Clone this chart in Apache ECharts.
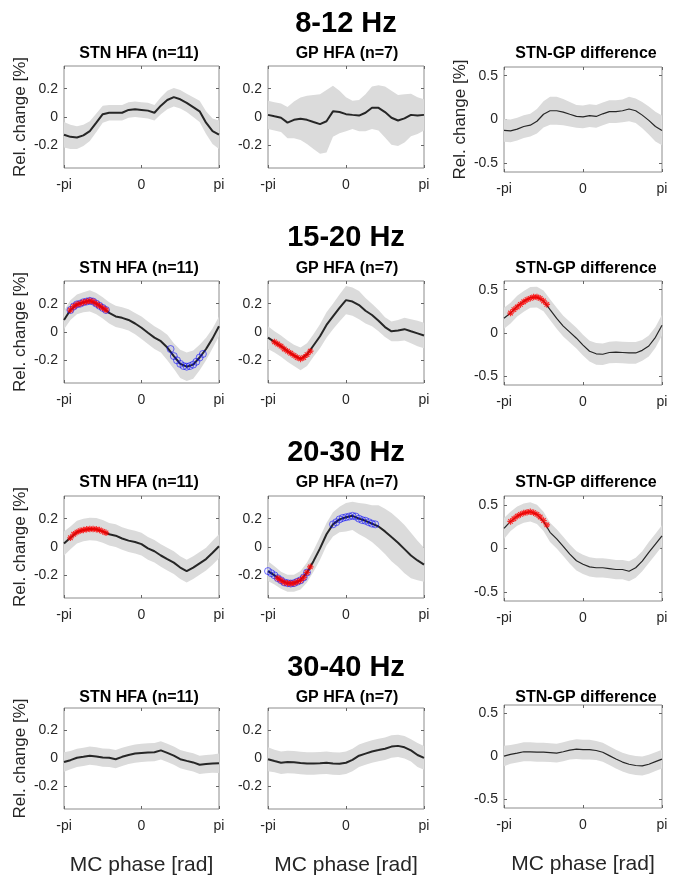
<!DOCTYPE html>
<html><head><meta charset="utf-8">
<script src="https://cdn.jsdelivr.net/npm/echarts@6/dist/echarts.min.js"></script>
<style>html,body{margin:0;padding:0;background:#fff}#c{width:673px;height:880px}</style>
</head><body><div id="c"></div>
<script>
// ---------- data ----------
const bandTitles = ['8-12 Hz', '15-20 Hz', '20-30 Hz', '30-40 Hz'];
const panelTitles = ['STN HFA (n=11)', 'GP HFA (n=7)', 'STN-GP difference'];
const xTickLabels = ['-pi', '0', 'pi'];
const hfaTicks = [-0.2, 0, 0.2];
const diffTicks = [-0.5, 0, 0.5];
const yLabel = 'Rel. change [%]';
const xLabel = 'MC phase [rad]';

// phase in units of pi (25 samples)
const phase = [-1, -0.917, -0.833, -0.75, -0.667, -0.583, -0.5, -0.417, -0.333, -0.25, -0.167, -0.083, 0,
  0.083, 0.167, 0.25, 0.333, 0.417, 0.5, 0.583, 0.667, 0.75, 0.833, 0.917, 1];
// finer phase grid (units of pi) for significance markers
const phaseFine = [-1, -0.958, -0.917, -0.875, -0.833, -0.792, -0.75, -0.708, -0.667, -0.625, -0.583, -0.542, -0.5,
  -0.458, -0.417, -0.375, -0.333, -0.292, -0.25, -0.208, -0.167, -0.125, -0.083, -0.042, 0,
  0.042, 0.083, 0.125, 0.167, 0.208, 0.25, 0.292, 0.333, 0.375, 0.417, 0.458, 0.5,
  0.542, 0.583, 0.625, 0.667, 0.708, 0.75, 0.792, 0.833, 0.875, 0.917, 0.958, 1];

// 8-12 Hz
const stn812Mean = [-0.125,-0.14,-0.145,-0.13,-0.10,-0.04,0.02,0.03,0.03,0.03,0.05,0.055,0.05,0.045,0.03,0.08,0.12,0.14,0.125,0.10,0.07,0.04,-0.04,-0.10,-0.125];
const stn812Sem  = [0.09,0.085,0.08,0.075,0.07,0.065,0.06,0.055,0.055,0.055,0.055,0.055,0.055,0.055,0.055,0.06,0.065,0.065,0.065,0.065,0.07,0.075,0.08,0.09,0.1];
const gp812Mean  = [0.015,0.005,-0.005,-0.04,-0.02,-0.012,-0.02,-0.035,-0.05,-0.03,0.04,0.035,0.02,0.015,0.01,0.03,0.065,0.065,0.035,-0.005,-0.025,-0.01,0.015,0.01,0.015];
const gp812Sem   = [0.10,0.10,0.10,0.11,0.13,0.15,0.17,0.19,0.21,0.22,0.18,0.15,0.12,0.10,0.11,0.13,0.15,0.16,0.18,0.19,0.18,0.17,0.15,0.13,0.11];
const diff812Mean = [-0.125,-0.13,-0.11,-0.08,-0.065,-0.02,0.06,0.10,0.10,0.085,0.06,0.035,0.03,0.045,0.035,0.065,0.09,0.09,0.10,0.12,0.10,0.05,-0.01,-0.08,-0.125];
const diff812Sem  = [0.13,0.13,0.13,0.13,0.13,0.14,0.15,0.16,0.16,0.15,0.14,0.13,0.13,0.13,0.13,0.13,0.13,0.13,0.13,0.14,0.14,0.15,0.16,0.17,0.17];

// 15-20 Hz
const stn1520Mean = [0.085,0.155,0.195,0.21,0.22,0.20,0.17,0.135,0.11,0.10,0.085,0.06,0.03,-0.005,-0.04,-0.065,-0.11,-0.17,-0.225,-0.245,-0.23,-0.18,-0.12,-0.045,0.04];
const stn1520Sem  = [0.065,0.07,0.07,0.07,0.075,0.075,0.075,0.075,0.075,0.075,0.075,0.075,0.08,0.08,0.08,0.08,0.09,0.09,0.10,0.10,0.10,0.09,0.08,0.07,0.07];
const gp1520Mean  = [-0.04,-0.07,-0.10,-0.135,-0.165,-0.19,-0.16,-0.095,-0.03,0.05,0.11,0.17,0.225,0.215,0.19,0.15,0.12,0.08,0.035,0.005,0.01,0.02,0.005,-0.01,-0.025];
const gp1520Sem   = [0.08,0.075,0.075,0.075,0.075,0.08,0.08,0.08,0.085,0.09,0.09,0.095,0.10,0.10,0.10,0.09,0.08,0.075,0.07,0.07,0.075,0.08,0.085,0.09,0.09];
const diff1520Mean = [0.17,0.23,0.31,0.365,0.41,0.415,0.37,0.27,0.17,0.08,0.01,-0.06,-0.14,-0.21,-0.24,-0.245,-0.225,-0.22,-0.225,-0.23,-0.23,-0.2,-0.15,-0.05,0.09];
const diff1520Sem  = [0.12,0.12,0.12,0.12,0.12,0.12,0.12,0.12,0.12,0.12,0.12,0.12,0.12,0.12,0.125,0.125,0.125,0.125,0.125,0.125,0.125,0.12,0.12,0.12,0.12];

// 20-30 Hz
const stn2030Mean = [0.025,0.065,0.105,0.12,0.127,0.125,0.11,0.09,0.08,0.06,0.045,0.035,0.02,-0.01,-0.03,-0.06,-0.085,-0.11,-0.145,-0.17,-0.145,-0.115,-0.085,-0.04,0.005];
const stn2030Sem  = [0.085,0.08,0.08,0.08,0.08,0.08,0.08,0.08,0.08,0.08,0.08,0.08,0.08,0.08,0.08,0.08,0.08,0.08,0.08,0.08,0.08,0.08,0.08,0.085,0.085];
const gp2030Mean  = [-0.17,-0.20,-0.235,-0.255,-0.255,-0.235,-0.18,-0.10,-0.01,0.09,0.16,0.195,0.21,0.22,0.20,0.185,0.165,0.145,0.11,0.07,0.03,-0.015,-0.06,-0.095,-0.125];
const gp2030Sem   = [0.07,0.065,0.06,0.06,0.06,0.065,0.07,0.075,0.08,0.08,0.085,0.09,0.10,0.10,0.11,0.12,0.13,0.15,0.16,0.17,0.17,0.17,0.16,0.14,0.12];
const diff2030Mean = [0.23,0.31,0.37,0.405,0.42,0.39,0.31,0.185,0.11,0.025,-0.065,-0.14,-0.18,-0.21,-0.22,-0.22,-0.23,-0.24,-0.24,-0.26,-0.22,-0.145,-0.045,0.05,0.145];
const diff2030Sem  = [0.12,0.11,0.11,0.11,0.11,0.11,0.11,0.11,0.11,0.11,0.11,0.11,0.11,0.11,0.11,0.11,0.11,0.11,0.11,0.115,0.115,0.115,0.12,0.12,0.12];

// 30-40 Hz
const stn3040Mean = [-0.025,-0.012,0.005,0.012,0.02,0.015,0.007,0.005,-0.005,0.012,0.025,0.035,0.04,0.043,0.045,0.058,0.04,0.02,-0.005,-0.017,-0.028,-0.045,-0.04,-0.036,-0.034];
const stn3040Sem  = [0.07,0.065,0.065,0.065,0.065,0.065,0.065,0.065,0.065,0.065,0.065,0.065,0.065,0.065,0.065,0.065,0.065,0.065,0.065,0.065,0.065,0.065,0.065,0.065,0.07];
const gp3040Mean  = [-0.005,-0.018,-0.03,-0.025,-0.027,-0.032,-0.035,-0.035,-0.033,-0.03,-0.035,-0.038,-0.03,-0.01,0.02,0.035,0.05,0.06,0.07,0.085,0.09,0.08,0.058,0.025,0.005];
const gp3040Sem   = [0.085,0.08,0.08,0.08,0.08,0.08,0.08,0.08,0.08,0.08,0.08,0.08,0.08,0.08,0.08,0.08,0.08,0.08,0.08,0.08,0.08,0.08,0.08,0.085,0.085];
const diff3040Mean = [0.005,0.025,0.04,0.055,0.055,0.05,0.05,0.045,0.04,0.055,0.075,0.085,0.08,0.08,0.07,0.05,0.01,-0.03,-0.065,-0.09,-0.105,-0.11,-0.09,-0.06,-0.03];
const diff3040Sem  = [0.12,0.11,0.11,0.11,0.11,0.11,0.11,0.11,0.11,0.11,0.11,0.115,0.115,0.115,0.11,0.11,0.11,0.11,0.11,0.11,0.11,0.11,0.11,0.11,0.11];

// significance markers: start index into phaseFine + values
const stn1520RedStart = 2;  const stn1520Red  = [0.155,0.18,0.195,0.20,0.21,0.215,0.22,0.215,0.20,0.185,0.17,0.155];
const stn1520BlueAStart = 2; const stn1520BlueA = [0.155,0.18,0.195,0.20,0.21,0.215,0.22,0.215,0.20,0.185,0.17,0.155];
const stn1520BlueBStart = 33; const stn1520BlueB = [-0.12,-0.17,-0.20,-0.225,-0.24,-0.245,-0.24,-0.23,-0.21,-0.18,-0.155];
const gp1520RedStart = 2;   const gp1520Red   = [-0.07,-0.085,-0.10,-0.12,-0.135,-0.15,-0.165,-0.18,-0.19,-0.18,-0.16,-0.135];
const diff1520RedStart = 2; const diff1520Red = [0.23,0.27,0.30,0.33,0.36,0.385,0.40,0.415,0.415,0.40,0.37,0.33];
const stn2030RedStart = 2;  const stn2030Red  = [0.065,0.09,0.105,0.115,0.12,0.125,0.127,0.127,0.125,0.12,0.11,0.10];
const gp2030BlueAStart = 0; const gp2030BlueA = [-0.17,-0.185,-0.20,-0.22,-0.235,-0.25,-0.255,-0.258,-0.255,-0.245,-0.235,-0.215,-0.18];
const gp2030RedStart = 3;   const gp2030Red   = [-0.22,-0.235,-0.25,-0.255,-0.258,-0.255,-0.245,-0.235,-0.215,-0.18,-0.14];
const gp2030BlueBStart = 20; const gp2030BlueB = [0.16,0.175,0.195,0.205,0.21,0.215,0.22,0.215,0.20,0.19,0.185,0.175,0.165,0.16];
const diff2030RedStart = 2; const diff2030Red = [0.31,0.34,0.37,0.39,0.405,0.415,0.42,0.41,0.39,0.36,0.32,0.27];

// ---------- layout / styling ----------
const FONT = "'Liberation Sans', Arial, Helvetica, sans-serif";
const TXT = '#262626';
const colLeft = [64, 268, 504];
const colWidth = [155, 156, 158];
const boxTH = [ [[66,102],[66,102],[67,105]], [[281,102],[281,102],[281,104]],
                [[496,102],[496,102],[496,105]], [[708,101],[708,101],[705,103]] ];
const rowTitleY = [24, 238, 453, 668];
const subTitleY = [54, 268.5, 483, 697.5];
const subTitleX = [139, 347, 586];

const mk = (start, vals, kind) => ({start, vals, kind});
const panels = [
  [ {mean: stn812Mean, sem: stn812Sem, marks: []},
    {mean: gp812Mean, sem: gp812Sem, marks: []},
    {mean: diff812Mean, sem: diff812Sem, marks: []} ],
  [ {mean: stn1520Mean, sem: stn1520Sem, marks: [mk(stn1520BlueAStart, stn1520BlueA, 'blue'), mk(stn1520BlueBStart, stn1520BlueB, 'blue'), mk(stn1520RedStart, stn1520Red, 'red')]},
    {mean: gp1520Mean, sem: gp1520Sem, marks: [mk(gp1520RedStart, gp1520Red, 'red')]},
    {mean: diff1520Mean, sem: diff1520Sem, marks: [mk(diff1520RedStart, diff1520Red, 'red')]} ],
  [ {mean: stn2030Mean, sem: stn2030Sem, marks: [mk(stn2030RedStart, stn2030Red, 'red')]},
    {mean: gp2030Mean, sem: gp2030Sem, marks: [mk(gp2030BlueAStart, gp2030BlueA, 'blue'), mk(gp2030BlueBStart, gp2030BlueB, 'blue'), mk(gp2030RedStart, gp2030Red, 'red')]},
    {mean: diff2030Mean, sem: diff2030Sem, marks: [mk(diff2030RedStart, diff2030Red, 'red')]} ],
  [ {mean: stn3040Mean, sem: stn3040Sem, marks: []},
    {mean: gp3040Mean, sem: gp3040Sem, marks: []},
    {mean: diff3040Mean, sem: diff3040Sem, marks: []} ]
];

const grids = [], xAxes = [], yAxes = [], series = [], titles = [];
bandTitles.forEach((t, r) => titles.push({text: t, left: 346, top: rowTitleY[r], textAlign: 'center', textVerticalAlign: 'middle', padding: 0,
  textStyle: {fontFamily: FONT, fontSize: 29, fontWeight: 'bold', color: '#000'}}));

const ASTERISK = 'path://M0,5L10,5M5,0L5,10M1.5,1.5L8.5,8.5M8.5,1.5L1.5,8.5';

function bandSeries(xi, yi, rows) {
  return {
    type: 'custom', xAxisIndex: xi, yAxisIndex: yi, silent: true, z: 1, clip: true,
    data: rows,
    renderItem: function (params, api) {
      if (params.dataIndex !== 0) return null;
      const up = rows.map(d => api.coord([d[0], d[2]]));
      const lo = rows.map(d => api.coord([d[0], d[1]])).reverse();
      return {type: 'polygon', shape: {points: up.concat(lo)}, style: {fill: '#dbdbdb', stroke: 'none'}};
    }
  };
}

for (let r = 0; r < 4; r++) {
  for (let c = 0; c < 3; c++) {
    const g = r * 3 + c;
    const p = panels[r][c];
    const [top, h] = boxTH[r][c];
    grids.push({left: colLeft[c], top: top, width: colWidth[c], height: h, show: true,
      borderColor: '#8c8c8c', borderWidth: 1, backgroundColor: 'transparent', containLabel: false, outerBoundsMode: 'none'});
    titles.push({text: panelTitles[c], left: subTitleX[c], top: subTitleY[r], textAlign: 'center', textVerticalAlign: 'middle', padding: 0,
      textStyle: {fontFamily: FONT, fontSize: 16, fontWeight: 'bold', color: '#000'}});
    const tickStyle = {show: true, inside: true, length: 3, lineStyle: {color: '#666', width: 1}};
    const axLine = {show: false, onZero: false};
    const xBase = {type: 'value', gridIndex: g, min: -1, max: 1, interval: 1, axisLine: axLine, splitLine: {show: false}, axisTick: tickStyle};
    xAxes.push(Object.assign({}, xBase, {position: 'bottom',
      axisLabel: {show: true, margin: 10, fontSize: 14, fontFamily: FONT, color: TXT, formatter: v => xTickLabels[Math.round(v) + 1]},
      name: r === 3 ? xLabel : '', nameLocation: 'middle', nameGap: 46,
      nameTextStyle: {fontFamily: FONT, fontSize: 21, color: TXT}}));
    xAxes.push(Object.assign({}, xBase, {position: 'top', axisLabel: {show: false}}));
    const lim = c === 2 ? 0.6 : 0.36;
    const ticks = c === 2 ? diffTicks : hfaTicks;
    const yBase = {type: 'value', gridIndex: g, min: -lim, max: lim, axisLine: axLine, splitLine: {show: false},
      axisTick: Object.assign({}, tickStyle, {customValues: ticks})};
    const showName = (c === 0) || (c === 2 && r === 0);
    yAxes.push(Object.assign({}, yBase, {position: 'left',
      axisLabel: {show: true, customValues: ticks, margin: 6, fontSize: 14, fontFamily: FONT, color: TXT, formatter: v => String(v)},
      name: showName ? yLabel : '', nameLocation: 'middle', nameRotate: 90, nameGap: 35,
      nameTextStyle: {fontFamily: FONT, fontSize: 17, color: TXT}}));
    yAxes.push(Object.assign({}, yBase, {position: 'right', axisLabel: {show: false}}));

    const xi = 2 * g, yi = 2 * g;
    series.push(bandSeries(xi, yi, phase.map((ph, k) => [ph, p.mean[k] - p.sem[k], p.mean[k] + p.sem[k]])));
    series.push({type: 'line', xAxisIndex: xi, yAxisIndex: yi, symbol: 'none', silent: true,
      lineStyle: {color: '#262626', width: c === 2 ? 1.2 : 2}, z: 3, data: phase.map((ph, k) => [ph, p.mean[k]])});
    p.marks.forEach(m => {
      const data = m.vals.map((v, i) => [phaseFine[m.start + i], v]);
      if (m.kind === 'blue') {
        series.push({type: 'scatter', xAxisIndex: xi, yAxisIndex: yi, symbol: 'circle', symbolSize: 7, silent: true, z: 4,
          itemStyle: {color: 'rgba(0,0,255,0.06)', borderColor: 'rgba(0,0,255,0.85)', borderWidth: 0.8}, data});
      } else {
        series.push({type: 'scatter', xAxisIndex: xi, yAxisIndex: yi, symbol: ASTERISK, symbolSize: 6.5, silent: true, z: 5,
          itemStyle: {color: 'none', borderColor: '#ff0000', borderWidth: 1.2}, data});
      }
    });
  }
}

const chart = echarts.init(document.getElementById('c'), null, {renderer: 'canvas'});
chart.setOption({animation: false, backgroundColor: '#fff', title: titles, grid: grids, xAxis: xAxes, yAxis: yAxes, series: series});
</script></body></html>
